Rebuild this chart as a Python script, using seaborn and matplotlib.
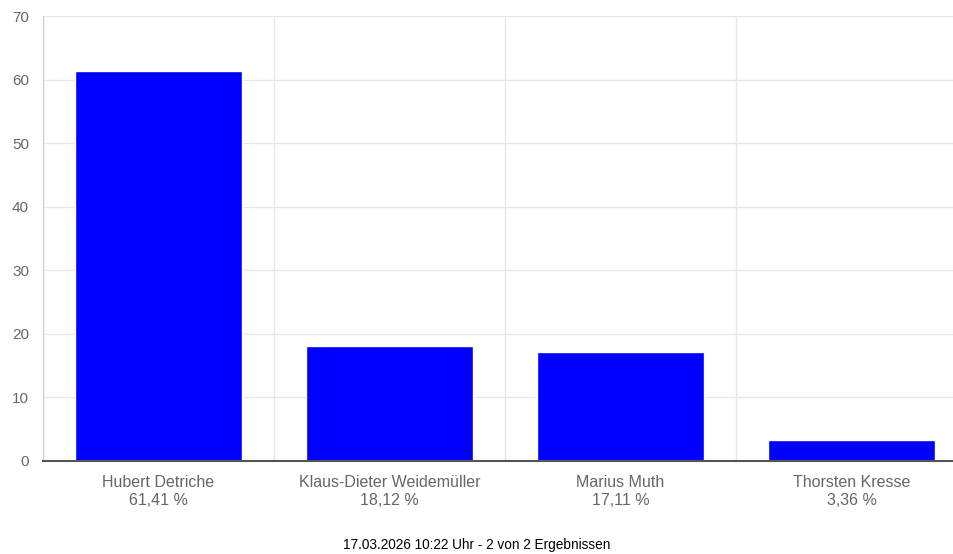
import matplotlib
matplotlib.use("Agg")
import matplotlib.pyplot as plt
import seaborn as sns
import pandas as pd

# election result values
candidates = ["Hubert Detriche", "Klaus-Dieter Weidemüller", "Marius Muth", "Thorsten Kresse"]
percent = [61.41, 18.12, 17.11, 3.36]
percent_labels = ["61,41 %", "18,12 %", "17,11 %", "3,36 %"]
y_ticks = [0, 10, 20, 30, 40, 50, 60, 70]
footer = "17.03.2026 10:22 Uhr - 2 von 2 Ergebnissen"

df = pd.DataFrame({"candidate": candidates, "percent": percent})

sns.set_style("white")
plt.rcParams["font.family"] = ["Liberation Sans", "DejaVu Sans"]

fig = plt.figure(figsize=(9.54, 5.54), dpi=100)
# axes spans past the right edge like the original canvas
ax = fig.add_axes([43 / 954, 1 - 461 / 554, 924 / 954, 445 / 554])

sns.barplot(data=df, x="candidate", y="percent", color="#0000ff",
            saturation=1, width=0.72, ax=ax, zorder=3)

ax.set_ylim(0, 70)
ax.set_xlim(-0.5, 3.5)
ax.set_yticks(y_ticks)
ax.set_xticks(range(len(candidates)))
ax.set_xticklabels([f"{c}\n{p}" for c, p in zip(candidates, percent_labels)],
                   linespacing=1.3)
ax.set_xticks([-0.5, 0.5, 1.5, 2.5], minor=True)

ax.grid(axis="y", color="#e6e6e6", linewidth=1, zorder=0)
ax.grid(axis="x", which="minor", color="#e6e6e6", linewidth=1, zorder=0)
ax.grid(axis="x", which="major", visible=False)

ax.tick_params(axis="y", length=8, color="#e6e6e6", labelcolor="#666666",
               labelsize=11, pad=2)
ax.tick_params(axis="x", which="major", length=0, labelcolor="#666666",
               labelsize=11.5, pad=10)
ax.tick_params(axis="x", which="minor", length=14, color="#e6e6e6")

for s in ["top", "right"]:
    ax.spines[s].set_visible(False)
ax.spines["left"].set_color("#cccccc")
ax.spines["bottom"].set_color("#555555")
ax.spines["bottom"].set_linewidth(1.5)
ax.spines["bottom"].set_zorder(4)
ax.set_xlabel("")
ax.set_ylabel("")

fig.text(477 / 954, 1 - 545 / 554, footer, ha="center", va="center",
         fontsize=9.8, color="black")

fig.savefig("out.png", dpi=100)
